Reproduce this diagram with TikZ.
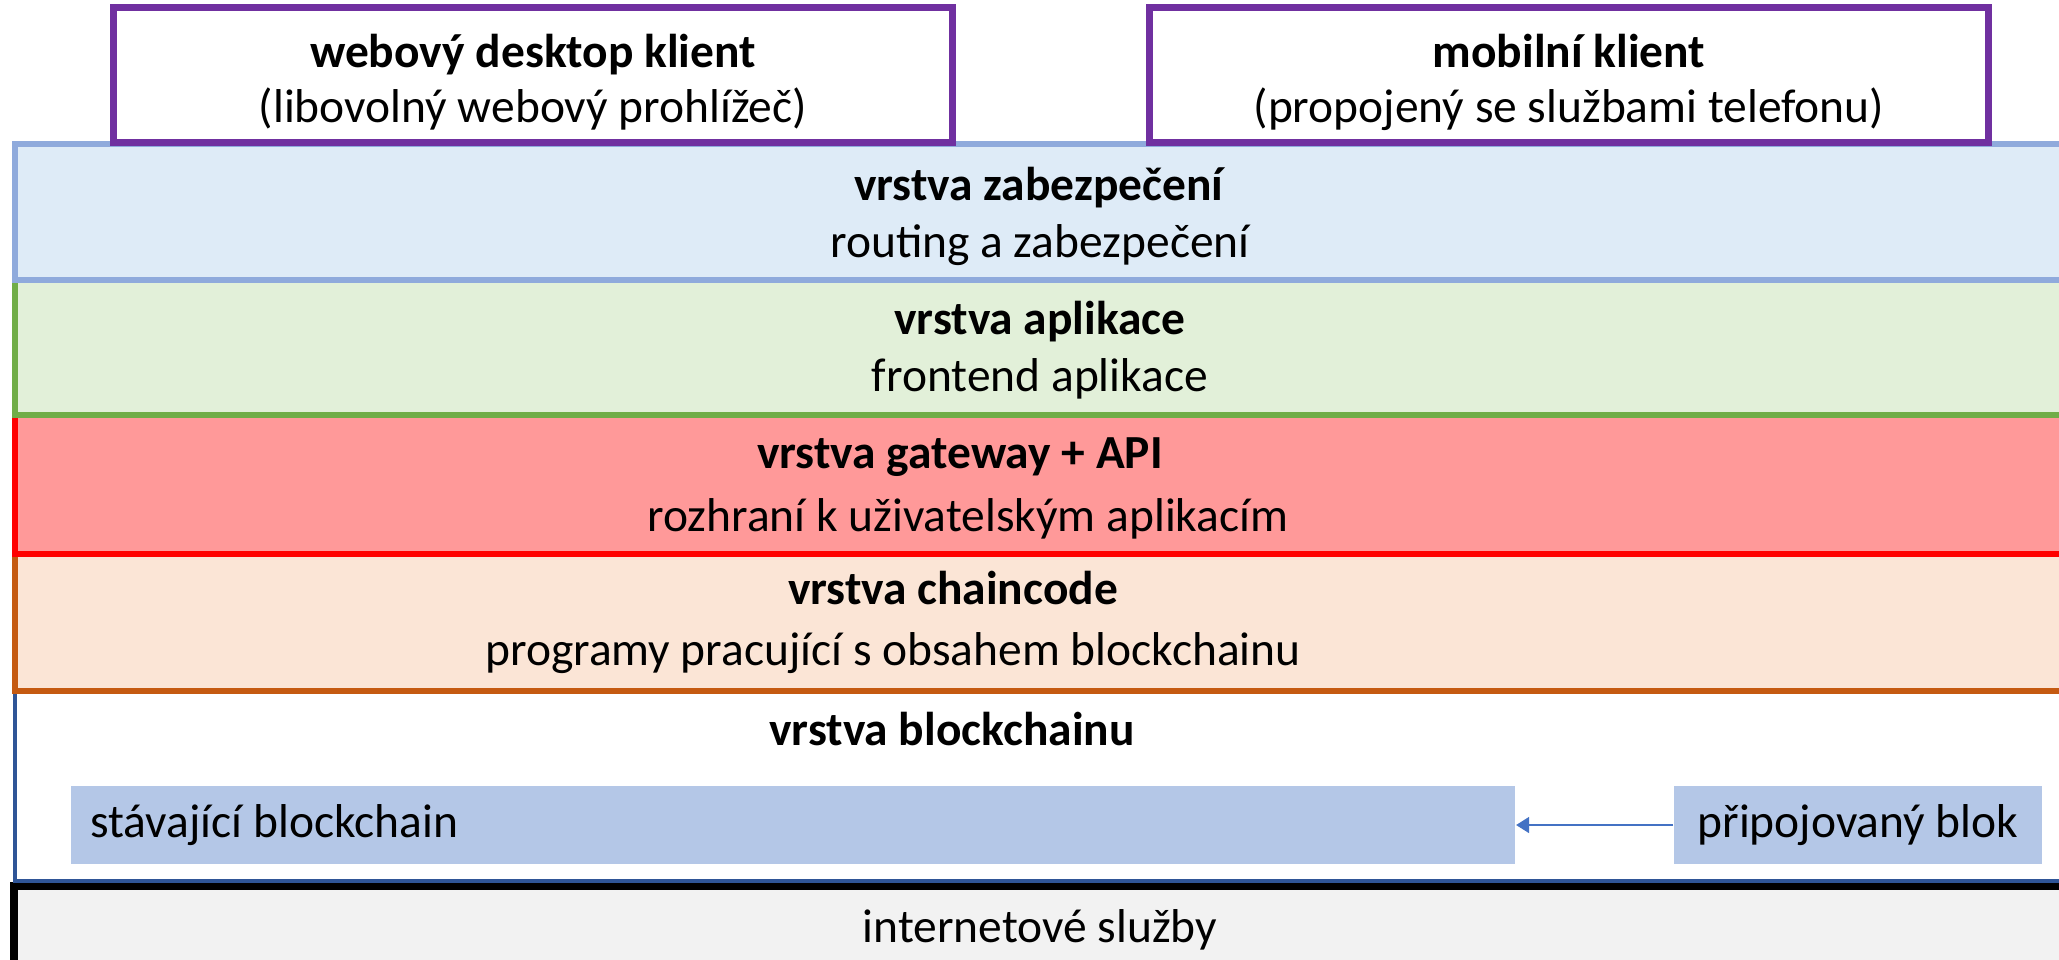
\documentclass[tikz,border=0pt]{standalone}
\usepackage{fontspec}
\setmainfont{Carlito}
\usetikzlibrary{arrows.meta}
\usetikzlibrary{positioning}
\definecolor{klientfr}{HTML}{7030A0}
\definecolor{zabfill}{HTML}{DEEBF7}
\definecolor{zabfr}{HTML}{8FAADC}
\definecolor{aplfill}{HTML}{E2F0D9}
\definecolor{aplfr}{HTML}{70AD47}
\definecolor{gwfill}{HTML}{FF9999}
\definecolor{gwfr}{HTML}{FF0000}
\definecolor{ccfill}{HTML}{FBE5D6}
\definecolor{ccfr}{HTML}{C55A11}
\definecolor{bcfr}{HTML}{2F5597}
\definecolor{blokfill}{HTML}{B4C7E7}
\definecolor{sipka}{HTML}{4472C4}
\definecolor{netfill}{HTML}{F2F2F2}
\tikzset{klient/.style={draw=klientfr,line width=2pt,fill=white,align=center,minimum width=8.38cm,minimum height=1.34cm}}
\tikzset{blok/.style={fill=blokfill,minimum height=0.78cm,inner xsep=0.2cm}}

\begin{document}
\begin{tikzpicture}[%
		x = 0.01cm, y = -0.01cm, % one unit per pixel
		font = \fontsize{13.5}{15.6}\selectfont,
		layer/.style = {line width=1.8pt}, % layer boxes
		]
		\useasboundingbox (0,0) rectangle (2059,959);
		\clip (0,0) rectangle (2059,959);
		
		% Layers, bottom first
		\draw[layer, draw=black, line width=2.1pt, fill=netfill] (14,886) rectangle (2200,1100);
		\draw[layer, draw=bcfr, line width=1.4pt, fill=white] (15,691) rectangle (2200,881);
		\draw[layer, draw=ccfr, fill=ccfill] (15,554) rectangle (2200,691);
		\draw[layer, draw=gwfr, fill=gwfill] (15,415) rectangle (2200,554);
		\draw[layer, draw=aplfr, fill=aplfill] (15,280) rectangle (2200,415);
		\draw[layer, draw=zabfr, fill=zabfill] (15,144) rectangle (2200,280);
		
		% Clients
		\node[klient] (web) at (533,75) {};
		\node[klient] (mob) at (1569,75) {};
		\node[align=center] (webtxt) at (533,82) {\textbf{webový desktop klient}\\(libovolný webový prohlížeč)};
		\node[align=center] (mobtxt) at (1569,82) {\textbf{mobilní klient}\\(propojený se službami telefonu)};
		
		% Layer texts
		\node (zab) at (1040,188) {\textbf{vrstva zabezpečení}};
		\node (zabsub) at (1040,245) {routing a zabezpečení};
		\node (apl) at (1040,322) {\textbf{vrstva aplikace}};
		\node (aplsub) at (1040,379) {frontend aplikace};
		\node (gw) at (960,457) {\textbf{vrstva gateway + API}};
		\node (gwsub) at (968,519) {rozhraní k uživatelským aplikacím};
		\node (cc) at (953,588) {\textbf{vrstva chaincode}};
		\node (ccsub) at (893,653) {programy pracující s obsahem blockchainu};
		\node (bc) at (952,729) {\textbf{vrstva blockchainu}};
		\node (net) at (1040,930) {internetové služby};
		
		% Blocks
		\node[blok, text width=14.04cm, align=flush left] (stav) at (793,825) {stávající blockchain};
		\node[blok, minimum width=3.68cm] (novy) at (1858,825) {připojovaný blok};
		\draw[-{Triangle[length=0.13cm,width=0.16cm]}, draw=sipka, fill=sipka, line width=0.45pt] (novy) -- (stav);
		\end{tikzpicture}
\end{document}
